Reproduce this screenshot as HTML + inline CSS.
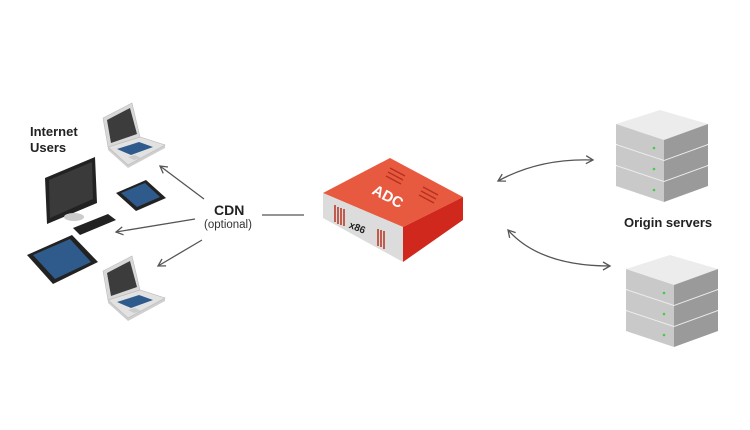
<!DOCTYPE html>
<html><head><style>body{margin:0;background:#fff}svg{display:block}</style></head><body>
<svg width="750" height="430" viewBox="0 0 750 430" xmlns="http://www.w3.org/2000/svg" font-family="Liberation Sans, sans-serif">
<defs>
<marker id="a" markerWidth="10" markerHeight="10" refX="8" refY="5" orient="auto-start-reverse" markerUnits="userSpaceOnUse"><path d="M1,1 L8,5 L1,9" fill="none" stroke="#555" stroke-width="1.3"/></marker>
<g id="lap">
<polygon points="5,44 37,34 62,42 62,45 25,65 5,47" fill="#cfcfcf"/>
<polygon points="5,44 37,34 62,42 25,62" fill="#e2e2e2" stroke="#bbb" stroke-width="0.6"/>
<polygon points="14,46 36,39 50,44 28,52" fill="#2f5b8c"/>
<polygon points="25,54 32,52 38,55 31,57" fill="#ccc"/>
<polygon points="0,15 29,0 37,34 5,44" fill="#d8d8d8" stroke="#bbb" stroke-width="0.6"/>
<polygon points="4,17 27,5 34,31 8,40" fill="#3c3c3c"/>
</g>
<g id="srv">
<polygon points="0,14 44,0 92,14 48,30" fill="#ececec"/>
<polygon points="0,14 48,30 48,50 0,34" fill="#c9c9c9"/>
<polygon points="48,30 92,14 92,34 48,50" fill="#9a9a9a"/>
<circle cx="38" cy="38" r="1.3" fill="#4c4"/>
</g>
</defs>
<line x1="204" y1="199" x2="160" y2="166" stroke="#555" stroke-width="1.3" marker-end="url(#a)"/>
<line x1="195" y1="219" x2="116" y2="232" stroke="#555" stroke-width="1.3" marker-end="url(#a)"/>
<line x1="202" y1="240" x2="158" y2="266" stroke="#555" stroke-width="1.3" marker-end="url(#a)"/>
<line x1="262" y1="215" x2="304" y2="215" stroke="#555" stroke-width="1.3"/>
<path d="M498,181 Q540,158 593,160" fill="none" stroke="#555" stroke-width="1.3" marker-start="url(#a)" marker-end="url(#a)"/>
<path d="M508,230 Q540,266 610,266" fill="none" stroke="#555" stroke-width="1.3" marker-start="url(#a)" marker-end="url(#a)"/>
<use href="#lap" x="103" y="103"/>
<use href="#lap" x="103" y="256"/>
<polygon points="45,178 95,157 97,203 47,224" fill="#222"/>
<polygon points="49,180 92,162 93,199 50,218" fill="#3a3a3a"/>
<ellipse cx="74" cy="217" rx="10" ry="4" fill="#ccc"/>
<polygon points="73,228 108,214 116,220 80,235" fill="#222"/>
<polygon points="116,193 146,180 166,198 136,211" fill="#222"/>
<polygon points="121,193 145,183 160,197 137,207" fill="#2f5b8c"/>
<polygon points="27,255 72,235 98,262 53,284" fill="#222"/>
<polygon points="33,255 70,239 91,262 55,279" fill="#2f5b8c"/>
<polygon points="323,193 390,158 463,197 403,227" fill="#e85a40"/>
<polygon points="323,193 403,227 403,262 323,218" fill="#dcdcdc"/>
<polygon points="403,227 463,197 463,220 403,262" fill="#d0281c"/>
<g stroke="#b8301f" stroke-width="1.5">
<line x1="390" y1="168" x2="405" y2="176"/><line x1="388" y1="172" x2="403" y2="180"/><line x1="386" y1="176" x2="401" y2="184"/>
<line x1="423" y1="187" x2="438" y2="195"/><line x1="421" y1="191" x2="436" y2="199"/><line x1="419" y1="195" x2="434" y2="203"/>
<line x1="335" y1="205" x2="335" y2="222"/><line x1="338" y1="207" x2="338" y2="224"/><line x1="341" y1="208" x2="341" y2="225"/><line x1="344" y1="209" x2="344" y2="226"/>
<line x1="378" y1="229" x2="378" y2="246"/><line x1="381" y1="230" x2="381" y2="247"/><line x1="384" y1="231" x2="384" y2="249"/>
</g>
<text x="372" y="200" fill="#fff" font-weight="bold" font-size="15" transform="rotate(28 385 195)">ADC</text>
<text x="349" y="230" fill="#222" font-weight="bold" font-size="10" transform="rotate(22 355 227)">x86</text>
<use href="#srv" x="616" y="152"/><use href="#srv" x="616" y="131"/><use href="#srv" x="616" y="110"/>
<use href="#srv" x="626" y="297"/><use href="#srv" x="626" y="276"/><use href="#srv" x="626" y="255"/>
<text x="30" y="136" font-size="13" font-weight="bold" fill="#222">Internet</text>
<text x="30" y="152" font-size="13" font-weight="bold" fill="#222">Users</text>
<text x="214" y="215" font-size="14" font-weight="bold" fill="#222">CDN</text>
<text x="204" y="228" font-size="11.5" fill="#333">(optional)</text>
<text x="624" y="227" font-size="13" font-weight="bold" fill="#222">Origin servers</text>
</svg>
</body></html>
